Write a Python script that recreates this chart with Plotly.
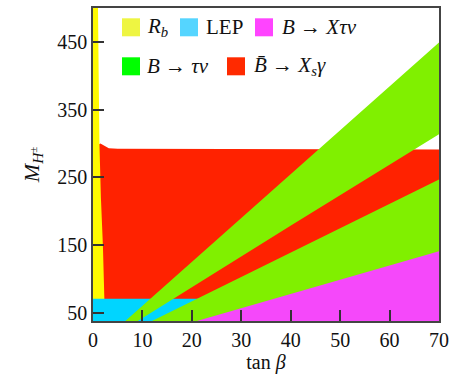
import plotly.graph_objects as go

# ---- data (tan(beta), M_H+ in GeV) ----
rb_tanb = [0, 1.0, 1.15, 1.3, 1.6, 2.0, 2.3, 2.4, 0]
rb_mh = [510, 510, 400, 300, 220, 150, 71, 30, 30]

xsg_tanb = [1.2, 1.2, 1.5, 2.0, 2.5, 3.2, 5.0, 70, 70]
xsg_mh = [30, 299, 300, 298, 295, 293, 292.3, 291, 30]

lep_tanb = [0, 70, 70, 0]
lep_mh = [30, 30, 71, 71]

taunu1_tanb = [5.3, 70, 70, 39.8, 7.3]
taunu1_mh = [30, 449, 313.5, 178, 30]

taunu2_tanb = [9.7, 70, 70]
taunu2_mh = [30, 247, 30]

xtaunu_tanb = [17.2, 70, 70]
xtaunu_mh = [30, 141, 30]

x_ticks = [0, 10, 20, 30, 40, 50, 60, 70]
y_ticks = [50, 150, 250, 350, 450]

legend_labels = ["<i>R</i><sub><i>b</i></sub>", "LEP", "<i>B</i> → <i>Xτν</i>",
                 "<i>B</i> → <i>τν</i>", "<i>B̄</i> → <i>X</i><sub><i>s</i></sub><i>γ</i>"]
legend_colors = ["#EEF542", "#55D5FF", "#FF44FF", "#00FF00", "#FF2A00"]

FONT = "Liberation Serif"

fig = go.Figure()

def region(x, y, color):
    fig.add_trace(go.Scatter(x=x, y=y, fill="toself", mode="lines",
                             line=dict(width=0, color=color), fillcolor=color,
                             hoverinfo="skip", showlegend=False))

region(xsg_tanb, xsg_mh, "#FF2200")
region(rb_tanb, rb_mh, "#FFFA00")
region(lep_tanb, lep_mh, "#00D5FF")
region(taunu1_tanb, taunu1_mh, "#80F000")
region(taunu2_tanb, taunu2_mh, "#80F000")
region(xtaunu_tanb, xtaunu_mh, "#F548FA")

W, H = 461, 374
ml, mr, mt, mb = 93, 22, 8, 53
pw, ph = W - ml - mr, H - mt - mb

def px(xp):
    return (xp - ml) / pw

def py(yp):
    return 1 - (yp - mt) / ph

# legend layout (pixel positions)
items = [(122, 18.3, 145), (180, 18.3, 204), (255, 18.3, 280),
         (122, 57.3, 145), (227, 57.3, 252)]
shapes = []
annotations = []
for (sx, sy, tx), lab, col in zip(items, legend_labels, legend_colors):
    shapes.append(dict(type="rect", xref="paper", yref="paper",
                       x0=px(sx), x1=px(sx + 18), y0=py(sy + 18), y1=py(sy),
                       fillcolor=col, line=dict(width=0)))
    annotations.append(dict(xref="paper", yref="paper", x=px(tx), y=py(sy + 9),
                            text=lab, showarrow=False, xanchor="left", yanchor="middle",
                            font=dict(family=FONT, size=21, color="#111")))

axis_common = dict(showline=True, linecolor="#444", linewidth=1.5, mirror=True,
                   ticks="inside", ticklen=11, tickwidth=1.5, tickcolor="#333",
                   showgrid=False, zeroline=False, automargin=False,
                   tickfont=dict(family=FONT, size=20, color="#111"))

fig.update_layout(
    width=W, height=H,
    margin=dict(l=ml, r=mr, t=mt, b=mb),
    paper_bgcolor="white", plot_bgcolor="white",
    shapes=shapes, annotations=annotations,
    xaxis=dict(range=[0, 70], tickvals=x_ticks, **axis_common,
               title=dict(text="tan <i>β</i>", font=dict(family=FONT, size=20, color="#111"),
                          standoff=12)),
    yaxis=dict(range=[38, 500], tickvals=y_ticks, **axis_common,
               title=dict(text="<i>M</i><sub><i>H</i><sup>±</sup></sub>",
                          font=dict(family=FONT, size=22, color="#111"), standoff=12)),
)

fig.write_html("out.html")
